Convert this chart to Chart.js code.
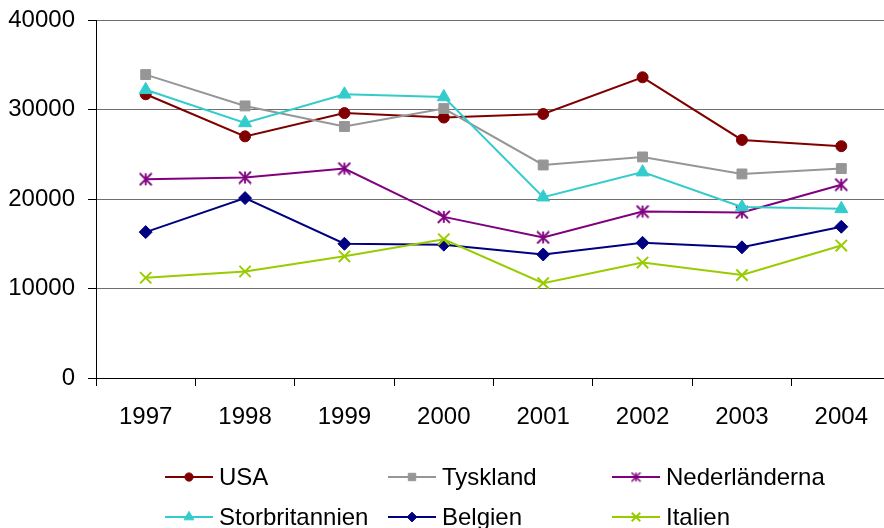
<!DOCTYPE html>
<html>
<head>
<meta charset="utf-8">
<script src="https://cdn.jsdelivr.net/npm/chart.js@4/dist/chart.umd.min.js"></script>
<style>
  html, body { margin: 0; padding: 0; background: #fff; overflow: hidden; }
  #wrap { width: 884px; height: 528px; overflow: hidden; position: relative; }
  canvas { display: block; }
</style>
</head>
<body>
<div id="wrap"><canvas id="c" width="901" height="528" style="width:901px;height:528px"></canvas></div>
<script>
const years = ['1997', '1998', '1999', '2000', '2001', '2002', '2003', '2004'];
const usa = [31700, 27000, 29600, 29100, 29500, 33600, 26600, 25900];
const tyskland = [33900, 30400, 28100, 30100, 23800, 24700, 22800, 23400];
const nederlanderna = [22200, 22400, 23400, 18000, 15700, 18600, 18500, 21600];
const storbritannien = [32200, 28500, 31700, 31400, 20200, 23000, 19100, 18900];
const belgien = [16300, 20100, 15000, 14900, 13800, 15100, 14600, 16900];
const italien = [11200, 11900, 13600, 15500, 10600, 12900, 11500, 14800];
const yTicks = [0, 10000, 20000, 30000, 40000];

const FONT = '"Liberation Sans", Arial, sans-serif';

function makeStar(color, size, lw) {
  const c = document.createElement('canvas');
  c.width = size; c.height = size;
  const g = c.getContext('2d');
  g.strokeStyle = color; g.lineWidth = lw; g.lineCap = 'butt';
  const m = size / 2, h = size / 2 - 1;
  g.beginPath();
  g.moveTo(m, m - h); g.lineTo(m, m + h);
  g.moveTo(m - h, m - h); g.lineTo(m + h, m + h);
  g.moveTo(m + h, m - h); g.lineTo(m - h, m + h);
  g.stroke();
  return c;
}
const starBig = makeStar('#800080', 14, 1.8);
const starSmall = makeStar('#800080', 11, 1.5);

function ds(label, data, color, style, radius, extra) {
  return Object.assign({
    label, data,
    borderColor: color, backgroundColor: color,
    pointBackgroundColor: color, pointBorderColor: color,
    pointStyle: style, pointRadius: radius, pointHoverRadius: radius,
    borderWidth: 2, pointBorderWidth: 1, tension: 0
  }, extra || {});
}

const datasets = [
  ds('USA', usa, '#800000', 'circle', 5.5),
  ds('Tyskland', tyskland, '#969696', 'rect', 7),
  ds('Nederländerna', nederlanderna, '#800080', starBig, 7),
  ds('Storbritannien', storbritannien, '#33CCCC', 'triangle', 7.5),
  ds('Belgien', belgien, '#000080', 'rectRot', 6.5),
  ds('Italien', italien, '#99CC00', 'crossRot', 8, { pointBorderWidth: 2 })
];
datasets.forEach((d, i) => { d.order = -i; });

const legendSlots = [
  { x: 165, y: 477 }, { x: 388, y: 477 }, { x: 612, y: 477 },
  { x: 165, y: 517 }, { x: 388, y: 517 }, { x: 612, y: 517 }
];

const gridLegend = {
  id: 'gridLegend',
  afterDraw(chart) {
    const ctx = chart.ctx;
    ctx.save();
    chart.data.datasets.forEach((d, i) => {
      const s = legendSlots[i];
      ctx.strokeStyle = d.borderColor;
      ctx.lineWidth = 2;
      ctx.beginPath();
      ctx.moveTo(s.x, s.y);
      ctx.lineTo(s.x + 48, s.y);
      ctx.stroke();
      ctx.fillStyle = d.borderColor;
      ctx.strokeStyle = d.borderColor;
      ctx.lineWidth = d.pointBorderWidth;
      let style = d.pointStyle;
      if (style === starBig) style = starSmall;
      Chart.helpers.drawPoint(ctx, {
        pointStyle: style, radius: d.pointRadius * 0.75, rotation: 0, borderWidth: d.pointBorderWidth
      }, s.x + 24, s.y);
      ctx.fillStyle = '#000';
      ctx.font = '24px ' + FONT;
      ctx.textBaseline = 'middle';
      ctx.textAlign = 'left';
      ctx.fillText(d.label, s.x + 54, s.y + 1);
    });
    ctx.restore();
  }
};

new Chart(document.getElementById('c'), {
  type: 'line',
  data: { labels: years, datasets },
  options: {
    responsive: false,
    animation: false,
    events: [],
    layout: { padding: { left: 0, right: 0, top: 20, bottom: 100 } },
    plugins: { legend: { display: false }, tooltip: { enabled: false } },
    scales: {
      x: {
        type: 'category',
        offset: true,
        grid: { display: true, offset: true, drawOnChartArea: false, drawTicks: true, tickLength: 8, tickColor: '#000', color: '#000' },
        border: { display: true, color: '#000', width: 1 },
        ticks: { color: '#000', font: { family: FONT, size: 24 }, padding: 17, maxRotation: 0, autoSkip: false },
        afterFit(scale) { scale.height = 50; scale.paddingLeft = 0; scale.paddingRight = 0; }
      },
      y: {
        min: 0, max: 40000,
        afterBuildTicks(scale) { scale.ticks = yTicks.map(v => ({ value: v })); },
        grid: { color: '#6e6e6e', lineWidth: 1, tickLength: 8, tickColor: '#000' },
        border: { display: true, color: '#000', width: 1 },
        ticks: { color: '#000', font: { family: FONT, size: 24 }, padding: 13, callback: v => String(v) },
        afterFit(scale) { scale.width = 96; scale.paddingTop = 0; scale.paddingBottom = 0; }
      }
    }
  },
  plugins: [gridLegend]
});
</script>
</body>
</html>
